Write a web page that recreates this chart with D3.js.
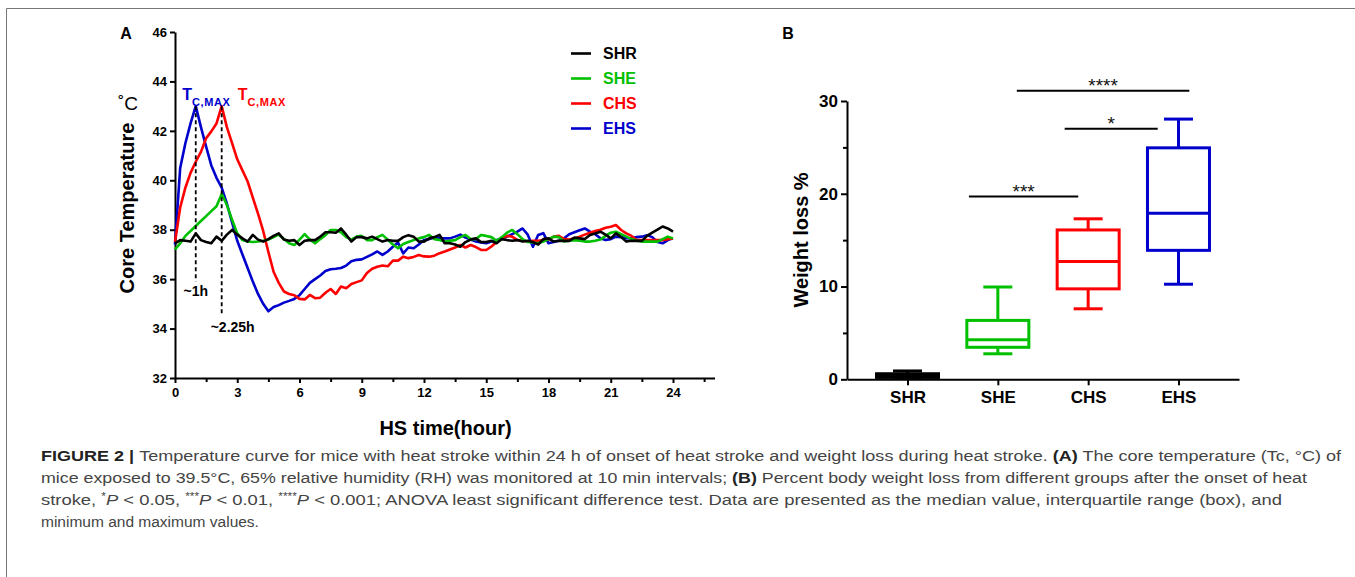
<!DOCTYPE html>
<html><head><meta charset="utf-8">
<script src="https://cdn.jsdelivr.net/npm/d3@7"></script>
<style>
html,body{margin:0;padding:0;background:#fff;}
svg{display:block;}
text{font-family:"Liberation Sans",Arial,Helvetica,sans-serif;}
</style></head><body>
<svg id="fig" width="1355" height="577"></svg>
<script>
// ---------------- Panel A data (core temperature, °C, every 15 min) ----------------
const stepHours = 0.25;
const seriesNames = ["SHR", "SHE", "CHS", "EHS"];
const seriesColors = ["#000000", "#00c000", "#ff0000", "#0000cc"];
const SHR = [37.45,37.58,37.55,37.52,37.85,37.58,37.5,37.45,37.72,37.55,37.8,37.99,37.8,37.65,37.52,37.79,
  37.6,37.52,37.62,37.75,37.85,37.6,37.55,37.58,37.38,37.55,37.58,37.58,37.72,37.9,37.9,37.88,
  38.05,37.8,37.52,37.7,37.7,37.65,37.72,37.62,37.52,37.58,37.55,37.55,37.7,37.78,37.72,37.52,
  37.52,37.65,37.7,37.79,37.45,37.45,37.4,37.31,37.5,37.6,37.65,37.5,37.5,37.55,37.45,37.62,
  37.58,37.55,37.58,37.52,37.55,37.5,37.4,37.62,37.65,37.52,37.55,37.55,37.55,37.68,37.65,37.62,
  37.79,37.85,37.92,37.8,37.65,37.85,37.7,37.52,37.55,37.55,37.55,37.75,37.88,38.0,38.13,38.05,37.92];
const SHE = [37.2,37.45,37.75,37.95,38.15,38.35,38.55,38.75,38.95,39.45,39.0,38.4,37.85,37.58,37.52,37.5,
  37.52,37.55,37.6,37.7,37.8,37.62,37.45,37.38,37.6,37.82,37.6,37.45,37.62,37.78,37.99,37.99,
  37.9,37.7,37.6,37.72,37.75,37.58,37.58,37.7,37.79,37.6,37.4,37.25,37.42,37.5,37.58,37.65,
  37.7,37.79,37.62,37.58,37.52,37.55,37.58,37.7,37.79,37.62,37.62,37.79,37.75,37.7,37.55,37.7,
  37.88,37.99,37.82,37.62,37.5,37.48,37.45,37.52,37.62,37.72,37.7,37.52,37.55,37.58,37.55,37.52,
  37.52,37.55,37.6,37.75,37.88,37.92,37.82,37.72,37.62,37.55,37.52,37.52,37.52,37.52,37.62,37.72,37.65];
const CHS = [37.5,38.9,39.7,40.3,40.75,41.15,41.7,41.98,42.3,43.0,42.15,41.5,40.85,40.4,39.95,39.3,
  38.65,37.95,37.1,36.3,35.85,35.5,35.4,35.35,35.2,35.18,35.36,35.23,35.25,35.45,35.6,35.4,
  35.7,35.63,35.8,35.88,35.95,36.25,36.42,36.5,36.55,36.52,36.75,36.75,36.91,36.85,36.9,36.98,
  36.92,36.91,36.95,37.05,37.12,37.2,37.28,37.38,37.28,37.38,37.3,37.18,37.18,37.32,37.5,37.65,
  37.75,37.72,37.58,37.55,37.52,37.55,37.55,37.58,37.6,37.72,37.75,37.62,37.6,37.65,37.72,37.8,
  37.88,37.95,38.0,38.08,38.12,38.19,37.99,37.85,37.75,37.58,37.58,37.58,37.58,37.58,37.58,37.62,37.65];
const EHS = [37.4,40.5,41.5,42.3,43.0,42.15,41.36,40.6,40.1,39.7,39.05,38.3,37.55,37.0,36.45,35.9,
  35.4,35.0,34.7,34.87,34.95,35.05,35.12,35.2,35.35,35.6,35.85,36.0,36.15,36.33,36.4,36.42,
  36.45,36.55,36.72,36.78,36.8,36.9,37.0,37.12,36.98,37.12,37.31,37.48,37.04,37.28,37.25,37.4,
  37.58,37.62,37.68,37.66,37.65,37.65,37.72,37.8,37.68,37.6,37.52,37.48,37.45,37.52,37.58,37.65,
  37.72,37.82,37.92,38.05,37.8,37.31,37.79,37.86,37.45,37.5,37.55,37.65,37.82,37.9,37.98,38.05,
  37.92,37.82,37.65,37.58,37.62,37.72,37.7,37.66,37.65,37.7,37.72,37.78,37.7,37.5,37.45,37.58,37.65];
const tempTicks = [32, 34, 36, 38, 40, 42, 44, 46];
const hourTicks = [0, 3, 6, 9, 12, 15, 18, 21, 24];
const hourMinorTicks = [1.5, 4.5, 7.5, 10.5, 13.5, 16.5, 19.5, 22.5, 25.5];
const peakSeries = ["EHS", "CHS"];
const peakHours = [1, 2.25];
const peakLabels = ["~1h", "~2.25h"];
const peakLineBottoms = [35.9, 34.5];

// ---------------- Panel B data (weight loss %) ----------------
const boxCats = ["SHR", "SHE", "CHS", "EHS"];
const boxMin = [0.1, 2.75, 7.6, 10.25];
const boxQ1 = [0.2, 3.45, 9.75, 13.9];
const boxMed = [0.35, 4.25, 12.7, 17.9];
const boxQ3 = [0.6, 6.35, 16.1, 24.95];
const boxMax = [0.9, 9.95, 17.3, 28.05];
const weightTicks = [0, 10, 20, 30];
const weightMinorTicks = [5, 15, 25];
const sigFrom = [0.68, 1.74, 1.21];   // in category-index units
const sigTo = [1.89, 2.77, 3.12];
const sigLevel = [19.7, 27.0, 31.1];
const sigLabel = ["***", "*", "****"];

// ---------------- Caption ----------------
const captionLines = [
  [["FIGURE 2 | ", "b"], ["Temperature curve for mice with heat stroke within 24 h of onset of heat stroke and weight loss during heat stroke. ", ""], ["(A)", "b"], [" The core temperature (Tc, °C) of", ""]],
  [["mice exposed to 39.5°C, 65% relative humidity (RH) was monitored at 10 min intervals; ", ""], ["(B)", "b"], [" Percent body weight loss from different groups after the onset of heat", ""]],
  [["stroke, ", ""], ["*", "sup"], ["P", "i"], [" < 0.05, ", ""], ["***", "sup"], ["P", "i"], [" < 0.01, ", ""], ["****", "sup"], ["P", "i"], [" < 0.001; ANOVA least significant difference test. Data are presented as the median value, interquartile range (box), and", ""]],
  [["minimum and maximum values.", ""]]
];
const captionLineEnds = [1341, 1307, 1282, null];

// =====================================================================
const svg = d3.select("#fig");
svg.append("path").attr("d", "M6.5,577V8.5H1355").attr("fill", "none")
  .attr("stroke", "#777").attr("stroke-width", 1);

// ---------------- Panel A ----------------
const xA = d3.scaleLinear().domain([0, 26]).range([175, 714.5]);
const yA = d3.scaleLinear().domain([32, 46]).range([378, 32]);
const gA = svg.append("g");

function styleAxis(g, fs) {
  g.select(".domain").attr("stroke", "#000").attr("stroke-width", 2);
  g.selectAll(".tick line").attr("stroke", "#000").attr("stroke-width", 2);
  g.selectAll(".tick text").attr("fill", "#000").attr("font-size", fs).attr("font-weight", "bold")
    .attr("font-family", "'Liberation Sans', Arial, sans-serif");
}

const yAxA = gA.append("g").attr("transform", `translate(${xA(0)},0)`)
  .call(d3.axisLeft(yA).tickValues(tempTicks).tickSize(5).tickSizeOuter(0).tickPadding(3).tickFormat(d3.format("d")));
styleAxis(yAxA, 13);
const xAxA = gA.append("g").attr("transform", `translate(0,${yA(32)})`)
  .call(d3.axisBottom(xA).tickValues(hourTicks).tickSize(5).tickSizeOuter(0).tickPadding(5).tickFormat(d3.format("d")));
styleAxis(xAxA, 13);
const xAxAm = gA.append("g").attr("transform", `translate(0,${yA(32)})`)
  .call(d3.axisBottom(xA).tickValues(hourMinorTicks).tickSize(4).tickFormat(""));
xAxAm.select(".domain").remove();
xAxAm.selectAll(".tick line").attr("stroke", "#000").attr("stroke-width", 2);

// series lines
const allSeries = { SHR, SHE, CHS, EHS };
const line = d3.line().x((d, i) => xA(i * stepHours)).y(d => yA(d));
const drawOrder = ["EHS", "CHS", "SHE", "SHR"];
drawOrder.forEach(name => {
  const c = seriesColors[seriesNames.indexOf(name)];
  gA.append("path").datum(allSeries[name]).attr("d", line).attr("fill", "none")
    .attr("stroke", c).attr("stroke-width", 2.6).attr("stroke-linejoin", "round");
});

// peak annotations
const peakLabelDx = [-13.5, 16];
peakHours.forEach((h, k) => {
  const s = allSeries[peakSeries[k]];
  const peakVal = s[Math.round(h / stepHours)];
  gA.append("line").attr("x1", xA(h)).attr("x2", xA(h))
    .attr("y1", yA(peakVal)).attr("y2", yA(peakLineBottoms[k]))
    .attr("stroke", "#000").attr("stroke-width", 1.8).attr("stroke-dasharray", "4,3");
  const col = seriesColors[seriesNames.indexOf(peakSeries[k])];
  const t = gA.append("text").attr("x", xA(h) + peakLabelDx[k]).attr("y", yA(peakVal) - 6)
    .attr("fill", col).attr("font-weight", "bold").attr("font-size", 16);
  t.append("tspan").text("T");
  t.append("tspan").attr("dy", 6).attr("font-size", 11).attr("letter-spacing", 0.6).text("C,MAX");
});
gA.append("text").attr("x", xA(peakHours[0])).attr("y", 296).attr("text-anchor", "middle")
  .attr("font-weight", "bold").attr("font-size", 14).text(peakLabels[0]);
gA.append("text").attr("x", xA(peakHours[1]) - 11).attr("y", 331.5).attr("text-anchor", "start")
  .attr("font-weight", "bold").attr("font-size", 14).text(peakLabels[1]);

// axis titles
gA.append("text").attr("transform", `translate(134,208) rotate(-90)`).attr("text-anchor", "middle")
  .attr("font-weight", "bold").attr("font-size", 20).text("Core Temperature");
gA.append("text").attr("x", 128).attr("y", 110).attr("text-anchor", "middle")
  .attr("font-size", 19).text("˚C");
gA.append("text").attr("x", 445.5).attr("y", 435).attr("text-anchor", "middle")
  .attr("font-weight", "bold").attr("font-size", 20).text("HS time(hour)");
gA.append("text").attr("x", 126).attr("y", 39).attr("text-anchor", "middle")
  .attr("font-weight", "bold").attr("font-size", 16).text("A");

// legend
const legendRowY = d3.scalePoint().domain(seriesNames).range([53.5, 128.5]);
seriesNames.forEach((n, i) => {
  const y = legendRowY(n);
  gA.append("line").attr("x1", 571).attr("x2", 591).attr("y1", y).attr("y2", y)
    .attr("stroke", seriesColors[i]).attr("stroke-width", 2.6);
  gA.append("text").attr("x", 603).attr("y", y).attr("dy", "0.36em").attr("fill", seriesColors[i])
    .attr("font-weight", "bold").attr("font-size", 16).text(n);
});

// ---------------- Panel B ----------------
const xB = d3.scalePoint().domain(boxCats).range([847, 1239]).padding(0.67);
const yB = d3.scaleLinear().domain([0, 30]).range([379.3, 101]);
const gB = svg.append("g");
const yAxB = gB.append("g").attr("transform", `translate(847,0)`)
  .call(d3.axisLeft(yB).tickValues(weightTicks).tickSize(6).tickSizeOuter(0).tickPadding(3));
styleAxis(yAxB, 17);
const yAxBm = gB.append("g").attr("transform", `translate(847,0)`)
  .call(d3.axisLeft(yB).tickValues(weightMinorTicks).tickSize(4).tickFormat(""));
yAxBm.select(".domain").remove();
yAxBm.selectAll(".tick line").attr("stroke", "#000").attr("stroke-width", 2);
const xAxB = gB.append("g").attr("transform", `translate(0,${yB(0)})`)
  .call(d3.axisBottom(xB).tickSize(6).tickSizeOuter(0).tickPadding(6));
styleAxis(xAxB, 17);

const boxW = 62, capW = 29;
boxCats.forEach((c, i) => {
  const cx = xB(c), col = seriesColors[seriesNames.indexOf(c)];
  const g = gB.append("g").attr("stroke", col).attr("stroke-width", 3).attr("fill", "none");
  g.append("line").attr("x1", cx).attr("x2", cx).attr("y1", yB(boxMax[i])).attr("y2", yB(boxQ3[i]));
  g.append("line").attr("x1", cx).attr("x2", cx).attr("y1", yB(boxQ1[i])).attr("y2", yB(boxMin[i]));
  g.append("line").attr("x1", cx - capW / 2).attr("x2", cx + capW / 2).attr("y1", yB(boxMax[i])).attr("y2", yB(boxMax[i]));
  g.append("line").attr("x1", cx - capW / 2).attr("x2", cx + capW / 2).attr("y1", yB(boxMin[i])).attr("y2", yB(boxMin[i]));
  g.append("rect").attr("x", cx - boxW / 2).attr("width", boxW)
    .attr("y", yB(boxQ3[i])).attr("height", yB(boxQ1[i]) - yB(boxQ3[i]));
  g.append("line").attr("x1", cx - boxW / 2).attr("x2", cx + boxW / 2).attr("y1", yB(boxMed[i])).attr("y2", yB(boxMed[i]));
});

// significance lines
const idxX = k => xB(boxCats[0]) + k * xB.step();
sigLabel.forEach((lab, k) => {
  const y = yB(sigLevel[k]);
  gB.append("line").attr("x1", idxX(sigFrom[k])).attr("x2", idxX(sigTo[k])).attr("y1", y).attr("y2", y)
    .attr("stroke", "#000").attr("stroke-width", 2);
  gB.append("text").attr("x", (idxX(sigFrom[k]) + idxX(sigTo[k])) / 2).attr("y", y + 1.5)
    .attr("text-anchor", "middle").attr("font-size", 19).attr("fill", "#111").text(lab);
});

gB.append("text").attr("transform", `translate(808,240) rotate(-90)`).attr("text-anchor", "middle")
  .attr("font-weight", "bold").attr("font-size", 20).text("Weight loss %");
gB.append("text").attr("x", 788).attr("y", 39).attr("text-anchor", "middle")
  .attr("font-weight", "bold").attr("font-size", 16).text("B");

// ---------------- Caption ----------------
const capY = d3.scalePoint().domain(d3.range(captionLines.length)).range([461, 527]);
captionLines.forEach((segs, li) => {
  const t = svg.append("text").attr("x", 41).attr("y", capY(li)).attr("font-size", 15.5)
    .attr("fill", "#444")
    .style("font-family", "'Liberation Sans',Arial,sans-serif");
  if (captionLineEnds[li] !== null) {
    t.attr("textLength", captionLineEnds[li] - 41).attr("lengthAdjust", "spacingAndGlyphs");
  }
  segs.forEach(([s, st]) => {
    const ts = t.append("tspan").text(s);
    if (st === "b") ts.attr("font-weight", "bold").attr("fill", "#222");
    if (st === "i") ts.attr("font-style", "italic");
    if (st === "sup") ts.attr("font-size", 10).attr("baseline-shift", "super");
  });
});
</script>
</body></html>
